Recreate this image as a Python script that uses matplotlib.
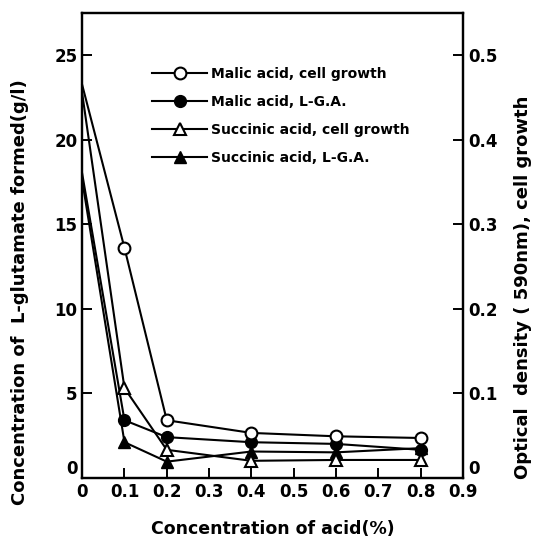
import matplotlib
matplotlib.use("Agg")
import matplotlib.pyplot as plt

# acid concentration (%)
acid_conc = [0.0, 0.1, 0.2, 0.4, 0.6, 0.8]

# L-glutamate formed (g/l), left axis
malic_lga = [18.0, 3.4, 2.4, 2.1, 2.0, 1.65]
succinic_lga = [17.6, 2.1, 0.95, 1.55, 1.5, 1.75]

# optical density at 590 nm (cell growth), right axis
malic_od = [0.465, 0.272, 0.068, 0.053, 0.049, 0.047]
succinic_od = [0.455, 0.106, 0.033, 0.020, 0.021, 0.021]

labels = ["Malic acid, cell growth", "Malic acid, L-G.A.",
          "Succinic acid, cell growth", "Succinic acid, L-G.A."]

x_ticks = [0, 0.1, 0.2, 0.3, 0.4, 0.5, 0.6, 0.7, 0.8, 0.9]
left_ticks = [0, 5, 10, 15, 20, 25]
right_ticks = [0, 0.1, 0.2, 0.3, 0.4, 0.5]

plt.rcParams['font.family'] = ['DejaVu Sans']
plt.rcParams['font.weight'] = 'bold'
plt.rcParams['axes.labelweight'] = 'bold'

fig = plt.figure(figsize=(5.37, 5.41), dpi=100)
ax = fig.add_axes([0.153, 0.117, 0.709, 0.859])
ax2 = ax.twinx()

lw = 1.5
ms = 8.5
# the control points at 0 % sit on the axis, drawn without a marker
mk = list(range(1, len(acid_conc)))
h1, = ax2.plot(acid_conc, malic_od, '-o', color='black', mfc='white',
               mec='black', mew=1.5, lw=lw, ms=ms, markevery=mk,
               clip_on=False, zorder=3)
h2, = ax.plot(acid_conc, malic_lga, '-o', color='black', lw=lw, ms=ms,
              markevery=mk, clip_on=False, zorder=3)
h3, = ax2.plot(acid_conc, succinic_od, '-^', color='black', mfc='white',
               mec='black', mew=1.5, lw=lw, ms=ms, markevery=mk,
               clip_on=False, zorder=3)
h4, = ax.plot(acid_conc, succinic_lga, '-^', color='black', lw=lw, ms=ms,
              markevery=mk, clip_on=False, zorder=3)

ax.set_xlim(0, 0.9)
ax.set_ylim(0, 27.5)
ax2.set_ylim(0, 0.55)

ax.set_xticks(x_ticks)
ax.set_xticklabels([f"{v:g}" for v in x_ticks])
ax.set_yticks(left_ticks)
ax2.set_yticks(right_ticks)
ax2.set_yticklabels([f"{v:g}" for v in right_ticks])
# lift the corner zeros off the x tick labels
ax.get_yticklabels()[0].set_va('bottom')
ax2.get_yticklabels()[0].set_va('bottom')

for a in (ax, ax2):
    for s in a.spines.values():
        s.set_linewidth(1.6)
ax.tick_params(axis='both', direction='in', length=7, width=1.4,
               labelsize=12, top=False)
ax2.tick_params(axis='y', direction='in', length=7, width=1.4,
                labelsize=12)

ax.set_xlabel("Concentration of acid(%)", fontsize=12.5, labelpad=14)
ax.set_ylabel("Concentration of  L-glutamate formed(g/l)", fontsize=13)
ax.yaxis.set_label_coords(-0.14, 0.4)
ax2.set_ylabel("Optical  density ( 590nm), cell growth", fontsize=13)
ax2.yaxis.set_label_coords(1.135, 0.41)

ax2.legend([h1, h2, h3, h4], labels, loc='upper left',
           bbox_to_anchor=(0.17, 0.895), frameon=False, fontsize=10,
           handlelength=3.9, handletextpad=0.3, labelspacing=1.0,
           borderaxespad=0)

fig.savefig("out.png", dpi=100)
